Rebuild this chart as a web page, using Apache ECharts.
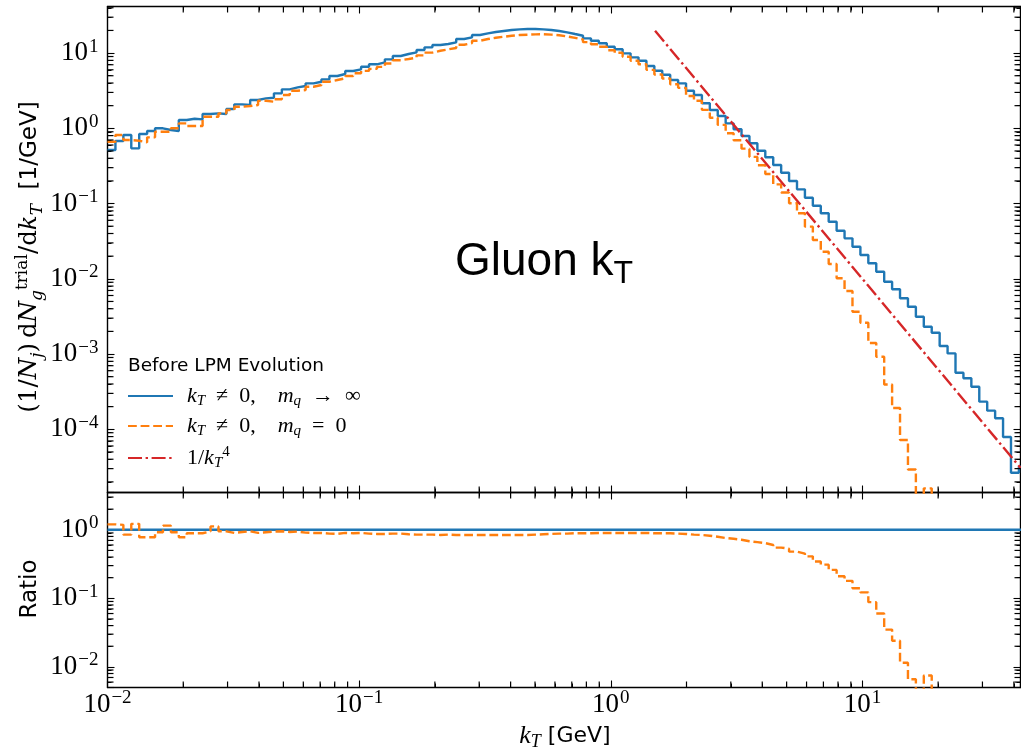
<!DOCTYPE html>
<html>
<head>
<meta charset="utf-8">
<title>Gluon kT</title>
<script src="https://cdn.jsdelivr.net/npm/echarts@6.0.0/dist/echarts.min.js"></script>
<style>
html,body{margin:0;padding:0;background:#ffffff;}
#chart{width:1021px;height:750px;}
</style>
</head>
<body>
<div id="chart"></div>
<script>
// ---------------- data ----------------
const binLogStart = -2;          // first bin edge = 10^-2 GeV
const binLogWidth = 4 / 127;     // log-uniform bin width (decades)

// k_T != 0, m_q -> inf  (1/N_j dN/dk_T), one value per bin
const blueValues = [
 0.515, 0.678, 0.815, 0.542, 0.840, 0.921, 1.00, 0.949, 0.921, 1.289,
 1.341, 1.317, 1.549, 1.582, 1.549, 1.805, 2.084, 2.040, 2.377, 2.504,
 2.551, 2.918, 3.298, 3.506, 3.649, 3.963, 4.162, 4.479, 4.955, 5.267,
 5.773, 6.083, 6.587, 7.089, 7.536, 8.259, 9.138, 9.714, 10.23, 10.98,
 11.92, 12.79, 13.19, 13.90, 15.37, 16.19, 17.37, 18.30, 19.04, 19.63,
 20.24, 20.68, 20.87, 20.87, 20.68, 20.24, 19.63, 18.87, 17.91, 17.01,
 15.70, 14.59, 13.48, 12.15, 11.22, 9.924, 8.780, 7.912, 6.728, 5.827,
 5.156, 4.384, 3.963, 3.160, 2.770, 2.149, 1.751, 1.457, 1.165, 0.970,
 0.790, 0.632, 0.504, 0.412, 0.325, 0.257, 0.1994, 0.1546, 0.1196, 0.0936,
 0.0742, 0.0574, 0.0436, 0.0345, 0.0267, 0.0207, 0.01607, 0.01243, 0.00915, 0.00725,
 0.00551, 0.00426, 0.00313, 0.00231, 0.00192, 0.00128, 0.00102, 0.000565, 0.000476, 0.000368,
 0.000233, 0.000177, 0.000140, 0.0000790, 0.0000265, 0.0000318
];

// k_T != 0, m_q = 0
const orangeValues = [
 0.664, 0.815, 0.699, 0.684, 0.652, 0.759, 0.901, 0.901, 1.00, 1.165,
 1.073, 1.073, 1.426, 1.426, 1.582, 1.751, 1.937, 1.979, 2.040, 2.327,
 2.257, 2.429, 2.770, 3.160, 3.228, 3.572, 3.762, 4.162, 4.384, 4.618,
 4.955, 5.383, 5.80, 6.17, 6.56, 7.27, 8.04, 8.35, 8.70, 9.33,
 10.13, 10.74, 11.21, 11.68, 12.91, 13.60, 14.59, 15.37, 15.99, 16.49,
 17.00, 17.37, 17.53, 17.74, 17.78, 17.61, 17.27, 16.61, 15.94, 15.14,
 13.97, 13.13, 12.13, 10.9, 10.1, 8.93, 7.90, 7.12, 5.99, 5.19,
 4.59, 3.86, 3.45, 2.69, 2.33, 1.76, 1.38, 1.11, 0.862, 0.694,
 0.537, 0.417, 0.323, 0.247, 0.180, 0.140, 0.1008, 0.0742, 0.0493, 0.0328,
 0.0229, 0.01573, 0.01015, 0.00689, 0.00365, 0.00261, 0.00140, 0.000922, 0.000394, 0.000192,
 0.0000721, 0.0000292, 0.000008, 0.0000164, 1e-9
];

// ratio panel: (m_q = 0) / (m_q -> inf)
const ratioValues = [
 1.2, 1.18, 0.85, 1.22, 0.78, 0.78, 0.92, 1.15, 0.92, 0.78,
 0.89, 0.89, 0.95, 1.12, 0.95, 0.90, 0.93, 0.95, 0.90, 0.92,
 0.94, 0.95, 0.93, 0.94, 0.91, 0.90, 0.90, 0.88, 0.87, 0.90,
 0.89, 0.90, 0.88, 0.87, 0.87, 0.88, 0.88, 0.86, 0.85, 0.85,
 0.85, 0.84, 0.85, 0.84, 0.84, 0.84, 0.84, 0.84, 0.84, 0.84,
 0.84, 0.84, 0.84, 0.85, 0.86, 0.87, 0.88, 0.88, 0.89, 0.89,
 0.89, 0.90, 0.90, 0.90, 0.90, 0.90, 0.90, 0.90, 0.89, 0.89,
 0.89, 0.88, 0.87, 0.85, 0.84, 0.82, 0.79, 0.76, 0.74, 0.715,
 0.68, 0.66, 0.64, 0.60, 0.55, 0.53, 0.48, 0.45, 0.41, 0.345,
 0.31, 0.26, 0.21, 0.18, 0.14, 0.122, 0.088, 0.060, 0.035, 0.024,
 0.0115, 0.0066, 0.004, 0.0075, 1e-7
];

// 1/k_T^4 reference line (end points)
const powerLawK = [1.5, 42.5];
const powerLawY = [19.75, 3.07e-5];

const xRange = [0.01, 42.5];
const topYRange = [1.445e-5, 41.6];
const ratioYRange = [0.005, 3.5];

// ---------------- styling ----------------
const BLUE = '#1f77b4', ORANGE = '#ff7f0e', RED = '#d62728';
const SERIF = 'Liberation Serif';
const WSERIF = 'DejaVu Serif';
const SANS = 'DejaVu Sans';
const LW = 2.4;

function binEdge(i) { return Math.pow(10, binLogStart + i * binLogWidth); }
function stepData(vals) {
  const d = vals.map((v, i) => [binEdge(i), v]);
  d.push([binEdge(vals.length), vals[vals.length - 1]]);
  return d;
}
// minor tick positions m*10^n inside a range
function minorTicks(range) {
  const out = [];
  const lo = Math.floor(Math.log10(range[0])) - 1, hi = Math.ceil(Math.log10(range[1]));
  for (let n = lo; n <= hi; n++) {
    for (let m = 2; m <= 9; m++) {
      const v = m * Math.pow(10, n);
      if (v > range[0] * 1.0001 && v < range[1] * 0.9999) out.push(v);
    }
  }
  return out;
}
function powLabel(v) {
  const e = Math.round(Math.log10(v));
  return '{b|10}{e|' + (e < 0 ? '\u2212' + (-e) : String(e)) + '}';
}
const tickRich = {
  b: { fontFamily: SERIF, fontSize: 27, lineHeight: 32, color: '#000' },
  e: { fontFamily: SERIF, fontSize: 19, lineHeight: 18, verticalAlign: 'top', color: '#000', padding: [0, 0, 0, 1] }
};

function logAxis(dim, grid, pos, range, showLabel) {
  return {
    type: 'log', logBase: 10, gridIndex: grid, position: pos,
    min: range[0], max: range[1],
    axisLine: { show: true, onZero: false, lineStyle: { color: '#000', width: 1.4 } },
    axisTick: { show: true, inside: true, length: 7, lineStyle: { color: '#000', width: 1.1 } },
    axisLabel: {
      show: showLabel, formatter: powLabel, rich: tickRich,
      margin: dim === 'x' ? 1 : 9,
      showMinLabel: dim === 'x', showMaxLabel: false
    },
    splitLine: { show: false },
    minorTick: { show: true, splitNumber: 9, length: 4, lineStyle: { color: '#000', width: 1 } },
    minorSplitLine: { show: false }
  };
}

const xAxes = [
  logAxis('x', 0, 'bottom', xRange, false),
  logAxis('x', 0, 'top', xRange, false),
  logAxis('x', 1, 'bottom', xRange, true),
  logAxis('x', 1, 'top', xRange, false)
];
const yAxes = [
  logAxis('y', 0, 'left', topYRange, true),
  logAxis('y', 0, 'right', topYRange, false),
  logAxis('y', 1, 'left', ratioYRange, true),
  logAxis('y', 1, 'right', ratioYRange, false)
];

// minor ticks (inside, on all four sides), placed through the axes' own scales
const MINOR_LEN = 6;
function xMinorRender(params, api) {
  const cs = params.coordSys;
  const x = api.coord([api.value(0), api.value(1)])[0];
  const yb = cs.y + cs.height, yt = cs.y;
  return { type: 'group', children: [
    { type: 'line', shape: { x1: x, y1: yb, x2: x, y2: yb - MINOR_LEN }, style: { stroke: '#000000', lineWidth: 1.2 } },
    { type: 'line', shape: { x1: x, y1: yt, x2: x, y2: yt + MINOR_LEN }, style: { stroke: '#000000', lineWidth: 1.2 } }
  ] };
}
function yMinorRender(params, api) {
  const cs = params.coordSys;
  const y = api.coord([api.value(0), api.value(1)])[1];
  const xl = cs.x, xr = cs.x + cs.width;
  return { type: 'group', children: [
    { type: 'line', shape: { x1: xl, y1: y, x2: xl + MINOR_LEN, y2: y }, style: { stroke: '#000000', lineWidth: 1.2 } },
    { type: 'line', shape: { x1: xr, y1: y, x2: xr - MINOR_LEN, y2: y }, style: { stroke: '#000000', lineWidth: 1.2 } }
  ] };
}
function minorSeries(axisIdx, dim, range) {
  const vals = minorTicks(range);
  return {
    type: 'custom', name: 'minor' + dim + axisIdx, coordinateSystem: 'cartesian2d',
    xAxisIndex: axisIdx, yAxisIndex: axisIdx, animation: false, z: 6,
    data: dim === 'x' ? vals.map(v => [v, 1]) : vals.map(v => [1, v]),
    renderItem: dim === 'x' ? xMinorRender : yMinorRender
  };
}

const legendRich = {
  i: { fontFamily: SERIF, fontStyle: 'italic', fontSize: 22, lineHeight: 26, color: '#000' },
  n: { fontFamily: SERIF, fontSize: 22, lineHeight: 26, color: '#000' },
  s: { fontFamily: SERIF, fontStyle: 'italic', fontSize: 15, lineHeight: 15, verticalAlign: 'bottom', color: '#000' },
  p: { fontFamily: SERIF, fontSize: 15, lineHeight: 15, verticalAlign: 'top', color: '#000' }
};
const legendText = {
  blue: '{i|k}{s|T}{n|\u2002\u2260\u20020,\u2003}{i|m}{s|q}{n|\u2002\u2192\u2002\u221e}',
  orange: '{i|k}{s|T}{n|\u2002\u2260\u20020,\u2003}{i|m}{s|q}{n|\u2002=\u20020}',
  red: '{n|1/}{i|k}{s|T}{p|4}'
};

const chart = echarts.init(document.getElementById('chart'), null, { renderer: 'canvas' });
const lineBase = { type: 'line', symbol: 'none', showSymbol: false, animation: false, clip: true, silent: true };

chart.setOption({
  backgroundColor: '#ffffff',
  animation: false,
  grid: [
    { left: 107.5, right: 0.5, top: 6.5, height: 486 },
    { left: 107.5, right: 0.5, top: 492.5, height: 195 }
  ],
  xAxis: xAxes,
  yAxis: yAxes,
  legend: {
    data: ['blue', 'orange', 'red'],
    orient: 'vertical', left: 127, top: 385, padding: 0,
    itemWidth: 45, itemHeight: 14, itemGap: 6,
    selectedMode: false,
    itemStyle: { opacity: 0 },
    formatter: name => legendText[name],
    textStyle: { rich: legendRich, padding: [0, 0, 0, 9] }
  },
  series: [
    Object.assign({}, lineBase, { name: 'blue', xAxisIndex: 0, yAxisIndex: 0, step: 'end',
      data: stepData(blueValues), lineStyle: { color: BLUE, width: LW }, itemStyle: { color: BLUE }, z: 2 }),
    Object.assign({}, lineBase, { name: 'orange', xAxisIndex: 0, yAxisIndex: 0, step: 'end',
      data: stepData(orangeValues), lineStyle: { color: ORANGE, width: LW, type: [8.8, 3.8] }, itemStyle: { color: ORANGE }, z: 3 }),
    Object.assign({}, lineBase, { name: 'red', xAxisIndex: 0, yAxisIndex: 0,
      data: powerLawK.map((k, i) => [k, powerLawY[i]]),
      lineStyle: { color: RED, width: LW, type: [14, 3.6, 2.4, 3.6] }, itemStyle: { color: RED }, z: 4 }),
    Object.assign({}, lineBase, { name: 'blue', xAxisIndex: 2, yAxisIndex: 2, step: 'end',
      data: stepData(blueValues.map(v => v / v)), lineStyle: { color: BLUE, width: LW }, itemStyle: { color: BLUE }, z: 2 }),
    Object.assign({}, lineBase, { name: 'orange', xAxisIndex: 2, yAxisIndex: 2, step: 'end',
      data: stepData(ratioValues), lineStyle: { color: ORANGE, width: LW, type: [8.8, 3.8] }, itemStyle: { color: ORANGE }, z: 3 }),
    minorSeries(0, 'x', xRange),
    minorSeries(0, 'y', topYRange),
    minorSeries(2, 'x', xRange),
    minorSeries(2, 'y', ratioYRange)
  ],
  graphic: [
    { type: 'text', x: 30, y: 257, rotation: Math.PI / 2, silent: true,
      style: {
        text: '{m|(1/}{mi|N}{sb|j}{m|)\u2009d}{mi|N}{sb|g}{sp|trial}{m|/d}{mi|k}{sb|T}{ss|  [1/GeV]}',
        align: 'center', verticalAlign: 'middle',
        rich: {
          m: { fontFamily: WSERIF, fontSize: 24.5, lineHeight: 32, fill: '#000' },
          mi: { fontFamily: WSERIF, fontStyle: 'italic', fontSize: 24.5, lineHeight: 32, fill: '#000' },
          sb: { fontFamily: WSERIF, fontStyle: 'italic', fontSize: 17, lineHeight: 17, verticalAlign: 'bottom', fill: '#000' },
          sp: { fontFamily: WSERIF, fontSize: 17, lineHeight: 17, verticalAlign: 'top', fill: '#000' },
          ss: { fontFamily: SANS, fontSize: 23, lineHeight: 32, fill: '#000' }
        }
      } },
    { type: 'text', x: 30, y: 589, rotation: Math.PI / 2, silent: true,
      style: { text: 'Ratio', font: '23px "DejaVu Sans"', fill: '#000', align: 'center', verticalAlign: 'middle' } },
    { type: 'text', x: 565, y: 736, silent: true,
      style: {
        text: '{mi|k}{sb|T}{ss| [GeV]}', align: 'center', verticalAlign: 'middle',
        rich: {
          mi: { fontFamily: SERIF, fontStyle: 'italic', fontSize: 26, lineHeight: 30, fill: '#000' },
          sb: { fontFamily: SERIF, fontStyle: 'italic', fontSize: 18, lineHeight: 18, verticalAlign: 'bottom', fill: '#000' },
          ss: { fontFamily: SANS, fontSize: 22, lineHeight: 30, fill: '#000' }
        }
      } },
    { type: 'text', x: 455, y: 262, silent: true,
      style: {
        text: '{a|Gluon k}{b|T}', align: 'left', verticalAlign: 'middle',
        rich: {
          a: { fontFamily: 'Liberation Sans', fontSize: 46, lineHeight: 56, fill: '#000' },
          b: { fontFamily: 'Liberation Sans', fontSize: 32, lineHeight: 32, verticalAlign: 'bottom', fill: '#000' }
        }
      } },
    { type: 'text', x: 128, y: 366, silent: true,
      style: { text: 'Before LPM Evolution', font: '18.5px "DejaVu Sans"', fill: '#000', align: 'left', verticalAlign: 'middle' } }
  ]
});
</script>
</body>
</html>
